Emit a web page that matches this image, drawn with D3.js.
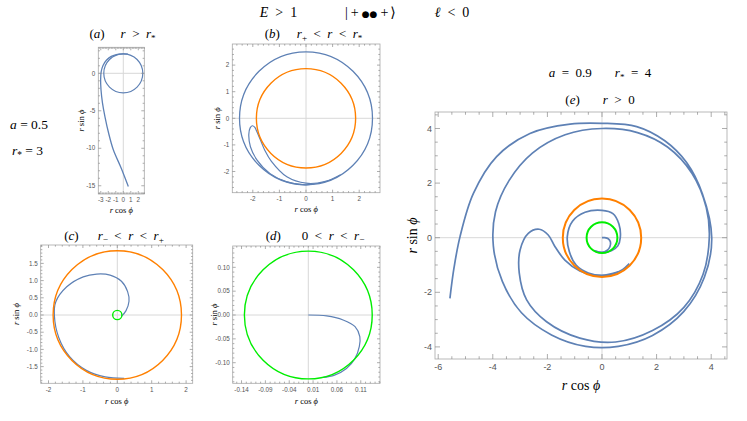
<!DOCTYPE html>
<html><head><meta charset="utf-8">
<script src="https://cdn.jsdelivr.net/npm/d3@7"></script>
<style>
body{margin:0;background:#fff}
svg{display:block}
</style>
</head><body>
<svg id="chart" width="747" height="421"></svg>
<script>
// ---------------- DATA ----------------
// horizon radii (a = 0.5 and a = 0.9) and circular orbit radii
const rPlusA05 = 1.866, rMinusA05 = 0.134;
const rPlusA09 = 1.436, rMinusA09 = 0.564;
const aCircleRadius = 2.6;
const bCircleRadius = 2.5;

// (a) incoming trajectory
const aPath = [[0.67,-15.1],[-0.3,-12.6],[-1.33,-10.2],[-1.95,-8.0],[-2.44,-5.8],[-2.78,-3.9],[-2.97,-2.2],[-3.02,-0.9],[-2.95,0.2],[-2.7,1.05],[-2.25,1.75],[-1.6,2.25],[-0.8,2.52],[0,2.6],[0.6,2.55]];
// (b) hook inside the outer circle
const bHook = [[1.0,-2.29],[0,-2.5],[-0.72,-2.39],[-1.35,-2.08],[-1.84,-1.57],[-2.09,-1.07],[-2.15,-0.6],[-2.1,-0.36],[-2.02,-0.28],[-1.93,-0.33],[-1.87,-0.45],[-1.72,-0.8],[-1.55,-1.2],[-1.3,-1.62],[-0.72,-2.2],[0,-2.44],[0.7,-2.38],[1.3,-2.12]];
// (c) spiral between horizons
const cPath = [[0.2,-1.84],[-0.35,-1.8],[-0.9,-1.61],[-1.38,-1.22],[-1.7,-0.66],[-1.83,0.0],[-1.79,0.38],[-1.47,0.82],[-0.99,1.11],[-0.6,1.19],[-0.21,1.16],[0.12,0.98],[0.3,0.68],[0.34,0.4],[0.25,0.12],[0.12,-0.04]];
// (d) inner segment
const dPath = [[0,0],[0.0385,-0.002],[0.073,-0.0105],[0.098,-0.0245],[0.108,-0.0455],[0.107,-0.066],[0.098,-0.091],[0.080,-0.112],[0.055,-0.126],[0.03,-0.131]];
// (e) full trajectory, pieces
const eOuter = [[-5.57,-2.22],[-5.42,-1.1],[-5.2,0.04],[-4.71,1.62],[-3.86,2.97],[-2.64,3.82],[-1.17,4.16],[0,4.19],[1.27,4.07],[2.3,3.55],[3.1,2.75],[3.68,1.6],[4.02,0],[3.75,-1.45],[3.0,-2.7],[1.85,-3.58],[0.6,-3.98],[-0.6,-3.98],[-1.85,-3.56],[-2.95,-2.75],[-3.65,-1.6],[-3.98,-0.3],[-3.9,0.95],[-3.4,2.1],[-2.55,3.1],[-1.35,3.77],[0,4.0],[1.3,3.85],[2.4,3.32],[3.3,2.35],[3.82,1.1],[3.93,0],[3.7,-1.35],[3.0,-2.55],[1.85,-3.4],[0.5,-3.82],[-0.81,-3.68],[-2.03,-3.08],[-2.76,-2.28],[-3.03,-1.30],[-3.0,-0.45],[-2.70,0.16],[-2.30,0.31],[-1.97,0.10],[-1.72,-0.33],[-1.36,-0.82],[-0.81,-1.22],[-0.3,-1.37],[0.3,-1.36],[0.75,-1.17],[1.0,-0.95]];
const eInner = [[0.6,-1.25],[0,-1.38],[-0.5,-1.29],[-0.95,-1.0],[-1.2,-0.5],[-1.27,0.05],[-1.08,0.6],[-0.62,0.93],[0,1.0],[0.4,0.88],[0.62,0.5],[0.67,0],[0.58,-0.3],[0.36,-0.47],[0,-0.55],[-0.3,-0.47]];
const eCurl = [[-0.25,-0.49],[0,-0.54],[0.18,-0.47],[0.29,-0.33],[0.31,-0.16],[0.23,-0.04],[0.1,0.0],[0,0]];

// tick values and labels
const aTicksX = [-3,-2,-1,0,1,2], aTicksY = [0,-5,-10,-15];
const bTicks = [-2,-1,0,1,2];
const cTicksX = [-2,-1,0,1,2];
const cTicksY = [-1.5,-1.0,-0.5,0.0,0.5,1.0,1.5];
const dTicksX = [-0.14,-0.09,-0.04,0.01,0.06,0.11];
const dTicksY = [-0.10,-0.05,0.00,0.05,0.10];
const eTicksX = [-6,-4,-2,0,2,4], eTicksY = [-4,-2,0,2,4];

// ---------------- STYLE ----------------
const BLUE = "#5E81B5", ORANGE = "#FF8000", GREEN = "#00EE00";
const SERIF = "'Liberation Serif','DejaVu Serif',serif";
const SANS = "'Liberation Sans','DejaVu Sans',sans-serif";
const SP = "\u2002";

const svg = d3.select("#chart");

function mtext(g, x, y, parts, size, anchor, rotate) {
  const t = g.append("text").attr("x", x).attr("y", y)
    .attr("font-family", SERIF).attr("font-size", size)
    .attr("text-anchor", anchor || "middle").attr("fill", "#000");
  if (rotate) t.attr("transform", `rotate(${rotate},${x},${y})`);
  parts.forEach(p => {
    const s = t.append("tspan").text(p.t);
    if (p.i) s.attr("font-style", "italic");
    if (p.dx) s.attr("dx", p.dx);
    if (p.fs) s.attr("font-size", p.fs);
    if (p.ff) s.attr("font-family", p.ff);
    if (p.sub) { s.attr("dy", size * 0.25).attr("font-size", size * 0.7); }
    if (p.back) s.attr("dy", p.back);
  });
  return t;
}

function panel(cfg) {
  const g = svg.append("g");
  const x = d3.scaleLinear().domain(cfg.xd).range([cfg.left, cfg.right]);
  const y = d3.scaleLinear().domain(cfg.yd).range([cfg.bottom, cfg.top]);
  const id = "clip" + cfg.name;
  svg.append("clipPath").attr("id", id).append("rect")
    .attr("x", cfg.left).attr("y", cfg.top)
    .attr("width", cfg.right - cfg.left).attr("height", cfg.bottom - cfg.top);
  g.append("line").attr("x1", x(0)).attr("x2", x(0)).attr("y1", cfg.top).attr("y2", cfg.bottom)
    .attr("stroke", "#d8d8d8").attr("stroke-width", 1);
  g.append("line").attr("y1", y(0)).attr("y2", y(0)).attr("x1", cfg.left).attr("x2", cfg.right)
    .attr("stroke", "#d8d8d8").attr("stroke-width", 1);
  const plot = g.append("g").attr("clip-path", `url(#${id})`);
  const line = d3.line().x(d => x(d[0])).y(d => y(d[1])).curve(d3.curveCatmullRom.alpha(0.5));
  (cfg.paths || []).forEach(p => {
    plot.append("path").attr("d", line(p)).attr("fill", "none")
      .attr("stroke", BLUE).attr("stroke-width", cfg.lw).attr("stroke-linejoin", "round");
  });
  (cfg.circles || []).forEach(c => {
    plot.append("ellipse").attr("cx", x(0)).attr("cy", y(0))
      .attr("rx", x(c.r) - x(0)).attr("ry", y(0) - y(c.r))
      .attr("fill", "none").attr("stroke", c.color).attr("stroke-width", c.w);
  });
  g.append("rect").attr("x", cfg.left).attr("y", cfg.top)
    .attr("width", cfg.right - cfg.left).attr("height", cfg.bottom - cfg.top)
    .attr("fill", "none").attr("stroke", "#a8a8a8").attr("stroke-width", 0.8);
  const tk = g.append("g").attr("stroke", "#8a8a8a").attr("stroke-width", 0.7);
  const rng = (d, s) => d3.range(Math.ceil(d[0] / s - 1e-9), Math.floor(d[1] / s + 1e-9) + 1).map(i => i * s);
  const isMajor = (v, arr) => arr.some(m => Math.abs(m - v) < 1e-9);
  rng(cfg.xd, cfg.mx).forEach(v => {
    const L = isMajor(v, cfg.tx) ? cfg.tl : cfg.tl * 0.55;
    tk.append("line").attr("x1", x(v)).attr("x2", x(v)).attr("y1", cfg.bottom).attr("y2", cfg.bottom - L);
    tk.append("line").attr("x1", x(v)).attr("x2", x(v)).attr("y1", cfg.top).attr("y2", cfg.top + L);
  });
  rng(cfg.yd, cfg.my).forEach(v => {
    const L = isMajor(v, cfg.ty) ? cfg.tl : cfg.tl * 0.55;
    tk.append("line").attr("y1", y(v)).attr("y2", y(v)).attr("x1", cfg.left).attr("x2", cfg.left + L);
    tk.append("line").attr("y1", y(v)).attr("y2", y(v)).attr("x1", cfg.right).attr("x2", cfg.right - L);
  });
  const lab = g.append("g").attr("font-family", SANS).attr("font-size", cfg.fs).attr("fill", "#555");
  cfg.tx.forEach(v => lab.append("text").attr("x", x(v)).attr("y", cfg.bottom + cfg.fs + 2)
    .attr("text-anchor", "middle").text(cfg.fx(v)));
  cfg.ty.forEach(v => lab.append("text").attr("x", cfg.left - 3).attr("y", y(v) + cfg.fs * 0.35)
    .attr("text-anchor", "end").text(cfg.fy(v)));
  const cx = (cfg.left + cfg.right) / 2, cy = (cfg.top + cfg.bottom) / 2;
  mtext(g, cx, cfg.xlabY, [{t:"r", i:true},{t:" cos "},{t:"ϕ", i:true}], cfg.als);
  mtext(g, cfg.ylabX, cy, [{t:"r", i:true},{t:" sin "},{t:"ϕ", i:true}], cfg.als, "middle", -90);
  return {x, y};
}

const fmtI = v => d3.format("d")(v).replace("−", "-");
const fmt1 = v => d3.format(".1f")(v).replace("−", "-");
const fmt2 = v => d3.format(".2f")(v).replace("−", "-");

panel({name:"a", left:98.3, right:144.3, top:47.3, bottom:194, xd:[-3.33,2.8], yd:[-16.1,3.47],
  paths:[aPath], circles:[{r:aCircleRadius, color:BLUE, w:1.2}], lw:1.3,
  tx:aTicksX, ty:aTicksY, mx:0.2, my:1, tl:3, fs:6.3, fx:fmtI, fy:fmtI,
  xlabY:213, ylabX:84, als:8.5});
panel({name:"b", left:232.3, right:380, top:44, bottom:192.7, xd:[-2.771,2.782], yd:[-2.797,2.793],
  paths:[bHook], circles:[{r:bCircleRadius, color:BLUE, w:1.3},{r:rPlusA05, color:ORANGE, w:1.4}], lw:1.2,
  tx:bTicks, ty:bTicks, mx:0.2, my:0.2, tl:3, fs:6.3, fx:fmtI, fy:fmtI,
  xlabY:212, ylabX:220, als:8.5});
panel({name:"c", left:40.7, right:192.7, top:245, bottom:383.3, xd:[-2.227,2.192], yd:[-1.985,2.035],
  paths:[cPath], circles:[{r:rPlusA05, color:ORANGE, w:1.4},{r:rMinusA05, color:GREEN, w:1.4}], lw:1.2,
  tx:cTicksX, ty:cTicksY, mx:0.2, my:0.1, tl:3, fs:6.3, fx:fmtI, fy:fmt1,
  xlabY:404, ylabX:19, als:8.5});
panel({name:"d", left:232.7, right:380, top:246, bottom:383.3, xd:[-0.1585,0.1503], yd:[-0.1432,0.1447],
  paths:[dPath], circles:[{r:rMinusA05, color:GREEN, w:1.4}], lw:1.2,
  tx:dTicksX, ty:dTicksY, mx:0.01, my:0.01, tl:3, fs:6.3, fx:fmt2, fy:fmt2,
  xlabY:404, ylabX:217, als:8.5});
panel({name:"e", left:435, right:727, top:112, bottom:359, xd:[-6.117,4.579], yd:[-4.443,4.604],
  paths:[eOuter, eInner, eCurl], circles:[{r:rPlusA09, color:ORANGE, w:2},{r:rMinusA09, color:GREEN, w:2}], lw:1.7,
  tx:eTicksX, ty:eTicksY, mx:0.5, my:0.5, tl:5, fs:9, fx:fmtI, fy:fmtI,
  xlabY:390, ylabX:417, als:14});

// titles and annotations
const T = svg.append("g");
const B = -3.25; // return from subscript
mtext(T, 122.5, 38, [{t:"("},{t:"a", i:true},{t:")"},{t:"r", i:true, dx:16},{t:SP+">"+SP},{t:"r", i:true},{t:"*", sub:true},{t:"", back:B}], 13);
mtext(T, 313.5, 38, [{t:"("},{t:"b", i:true},{t:")"},{t:"r", i:true, dx:17},{t:"+", sub:true},{t:SP+"<"+SP, back:B},{t:"r", i:true},{t:SP+"<"+SP},{t:"r", i:true},{t:"*", sub:true},{t:"", back:B}], 13);
mtext(T, 114, 240, [{t:"("},{t:"c", i:true},{t:")"},{t:"r", i:true, dx:19},{t:"−", sub:true},{t:SP+"<"+SP, back:B},{t:"r", i:true},{t:SP+"<"+SP},{t:"r", i:true},{t:"+", sub:true},{t:"", back:B}], 13);
mtext(T, 315, 240, [{t:"("},{t:"d", i:true},{t:")"},{t:"0", dx:21},{t:SP+"<"+SP},{t:"r", i:true},{t:SP+"<"+SP},{t:"r", i:true},{t:"−", sub:true},{t:"", back:B}], 13);
mtext(T, 600, 104, [{t:"("},{t:"e", i:true},{t:")"},{t:"r", i:true, dx:23},{t:SP+">"+SP+"0"}], 13);
mtext(T, 600, 77, [{t:"a", i:true},{t:SP+"="+SP+"0.9"},{t:"r", i:true, dx:23},{t:"*", sub:true},{t:SP+"="+SP+"4", back:B}], 13);
mtext(T, 278.5, 17, [{t:"E", i:true},{t:SP+">"+SP+"1"}], 14);
mtext(T, 345, 17, [{t:"|"},{t:"+", dx:3},{t:"●●", dx:3, fs:9, ff:"'DejaVu Sans',sans-serif"},{t:"+", dx:3},{t:"⟩", dx:2, ff:"'DejaVu Sans','Noto Sans',sans-serif"}], 14, "start");
mtext(T, 452, 17, [{t:"ℓ", i:true},{t:SP+"<"+SP+"0"}], 14);
mtext(T, 10, 129, [{t:"a", i:true},{t:" = 0.5"}], 13.5, "start");
mtext(T, 12, 155, [{t:"r", i:true},{t:"*", sub:true},{t:" = 3", back:-3.4}], 13.5, "start");
</script>
</body></html>
